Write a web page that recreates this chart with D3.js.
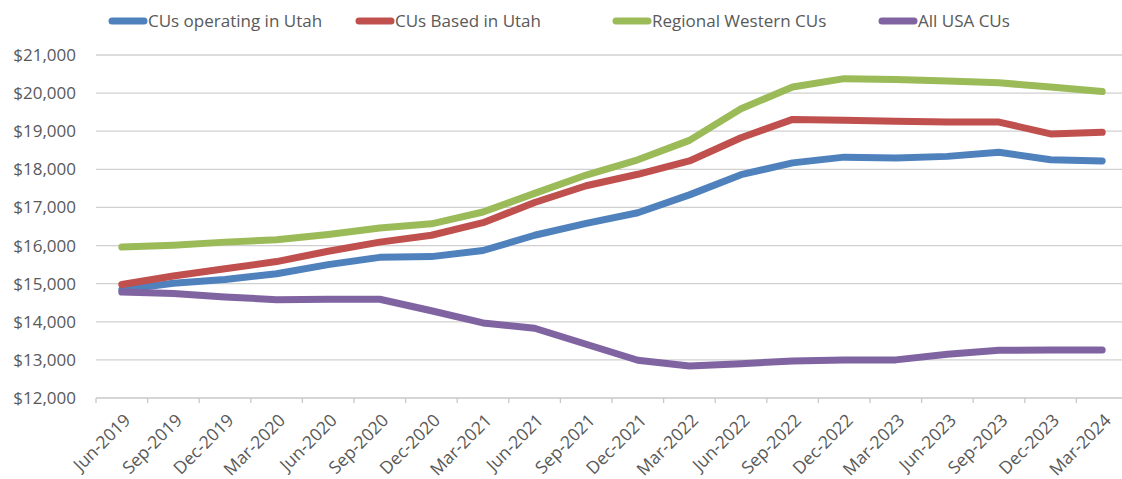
<!DOCTYPE html>
<html>
<head>
<meta charset="utf-8">
<script src="https://cdn.jsdelivr.net/npm/d3@7"></script>
<style>
  body { margin: 0; background: #fff; }
  text { font-family: "Open Sans", "Noto Sans", sans-serif; fill: #595959; }
</style>
</head>
<body>
<div id="chart"></div>
<script>
var quarters = ['Jun-2019','Sep-2019','Dec-2019','Mar-2020','Jun-2020','Sep-2020','Dec-2020','Mar-2021',
                'Jun-2021','Sep-2021','Dec-2021','Mar-2022','Jun-2022','Sep-2022','Dec-2022','Mar-2023',
                'Jun-2023','Sep-2023','Dec-2023','Mar-2024'];

var operatingUtah = [14840,15010,15110,15260,15500,15690,15710,15870,16270,16580,
                     16860,17330,17860,18170,18320,18300,18340,18450,18250,18220];
var basedUtah     = [14980,15200,15390,15580,15850,16090,16270,16600,17130,17570,
                     17870,18220,18830,19310,19290,19260,19240,19240,18930,18970];
var regionalWest  = [15960,16010,16090,16150,16290,16460,16570,16880,17370,17850,
                     18250,18760,19590,20160,20380,20360,20320,20270,20160,20040];
var allUSA        = [14780,14740,14650,14580,14590,14590,14290,13970,13830,13410,
                     12990,12840,12900,12970,13000,13000,13150,13250,13260,13260];

var seriesNames = ['CUs operating in Utah','CUs Based in Utah','Regional Western CUs','All USA CUs'];
var seriesColors = ['#4f81bd','#c0504d','#9bbb59','#8064a2'];
var seriesValues = [operatingUtah, basedUtah, regionalWest, allUSA];
var yTicks = [12000,13000,14000,15000,16000,17000,18000,19000,20000,21000];

(function(d3) {
  'use strict';

  var width = 1122, height = 479;
  var plotLeft = 96, plotRight = 1128, plotTop = 55, plotBottom = 398;

  var svg = d3.select('#chart').append('svg')
    .attr('width', width)
    .attr('height', height);

  var x = d3.scaleBand().domain(quarters).range([plotLeft, plotRight]);
  var y = d3.scaleLinear().domain([12000, 21000]).range([plotBottom, plotTop]);
  var fmt = d3.format('$,');

  // gridlines
  svg.append('g').selectAll('line')
    .data(yTicks.slice(1))
    .enter().append('line')
    .attr('x1', plotLeft).attr('x2', width)
    .attr('y1', function(d) { return y(d); })
    .attr('y2', function(d) { return y(d); })
    .attr('stroke', '#d0d0d0')
    .attr('stroke-width', 1.3);

  // y labels
  svg.append('g').selectAll('text')
    .data(yTicks)
    .enter().append('text')
    .attr('x', 76)
    .attr('y', function(d) { return y(d); })
    .attr('dy', '0.35em')
    .attr('text-anchor', 'end')
    .style('font-size', '17px')
    .text(function(d) { return fmt(d); });

  // x axis line + ticks
  svg.append('line')
    .attr('x1', plotLeft).attr('x2', width)
    .attr('y1', plotBottom).attr('y2', plotBottom)
    .attr('stroke', '#c8c8c8').attr('stroke-width', 1.3);

  svg.append('g').selectAll('line')
    .data(quarters)
    .enter().append('line')
    .attr('x1', function(d) { return x(d); })
    .attr('x2', function(d) { return x(d); })
    .attr('y1', plotBottom).attr('y2', plotBottom + 5)
    .attr('stroke', '#c8c8c8').attr('stroke-width', 1.3);

  // x labels, rotated
  svg.append('g').selectAll('text')
    .data(quarters)
    .enter().append('text')
    .attr('text-anchor', 'end')
    .style('font-size', '17.5px')
    .attr('transform', function(d) {
      var cx = x(d) + x.bandwidth() / 2 + 5.5;
      return 'translate(' + cx + ',' + (plotBottom + 19) + ') rotate(-45)';
    })
    .attr('dy', '0.35em')
    .text(function(d) { return d; });

  // lines
  var line = d3.line()
    .x(function(d, i) { return x(quarters[i]) + x.bandwidth() / 2; })
    .y(function(d) { return y(d); });

  svg.append('g').selectAll('path')
    .data(seriesValues)
    .enter().append('path')
    .attr('d', line)
    .attr('fill', 'none')
    .attr('stroke', function(d, i) { return seriesColors[i]; })
    .attr('stroke-width', 7)
    .attr('stroke-linecap', 'round')
    .attr('stroke-linejoin', 'round');

  // legend
  var legendX = [112, 359, 616, 882];
  var legend = svg.append('g').selectAll('g')
    .data(seriesNames)
    .enter().append('g')
    .attr('transform', function(d, i) { return 'translate(' + legendX[i] + ',21)'; });

  legend.append('line')
    .attr('x1', 0).attr('x2', 32)
    .attr('stroke', function(d, i) { return seriesColors[i]; })
    .attr('stroke-width', 7)
    .attr('stroke-linecap', 'round');

  legend.append('text')
    .attr('x', 36)
    .attr('dy', '0.35em')
    .style('font-size', '17px')
    .text(function(d) { return d; });
})(window.d3);
</script>
</body>
</html>
